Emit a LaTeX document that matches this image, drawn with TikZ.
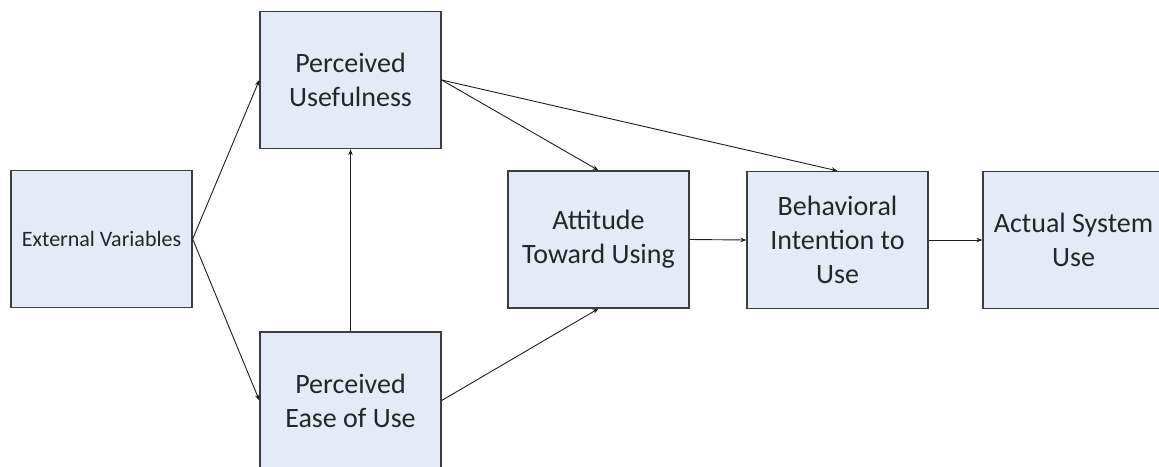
\documentclass[tikz,border=0pt]{standalone}
\usepackage{fontspec}
\setmainfont{Carlito}
\usetikzlibrary{arrows.meta}
\definecolor{boxfill}{RGB}{228,235,246}
\definecolor{boxline}{RGB}{62,62,62}
\definecolor{linkcol}{RGB}{30,30,30}
\begin{document}
\begin{tikzpicture}[x=1pt,y=-1pt,
  tambox/.style={draw=boxline, line width=1.3pt, fill=boxfill, inner sep=0pt,
    minimum width=181pt, minimum height=137pt, align=center,
    font=\fontsize{28}{34}\selectfont, text=black!85},
  link/.style={draw=linkcol, line width=0.9pt, -{Stealth[length=6pt,width=4.5pt]}}]
\useasboundingbox (0,0) rectangle (1159,466);
\clip (0,0) rectangle (1159,466);

% constructs of the acceptance model
\node[tambox, font=\fontsize{22}{27}\selectfont] (ev) at (101.5,239) {External Variables};
\node[tambox] (pu)   at (350.5,80)    {Perceived\\Usefulness};
\node[tambox] (peou) at (350.5,400.5) {Perceived\\Ease of Use};
\node[tambox] (atu)  at (598.5,239.5) {Attitude\\Toward Using};
\node[tambox] (bi)   at (837.5,240)   {Behavioral\\Intention to\\Use};
\node[tambox] (asu)  at (1073.5,240)  {Actual System\\Use};

% causal links
\draw[link] (ev.east) -- (pu.west);
\draw[link] (ev.east) -- (peou.west);
\draw[link] (peou.north) -- (pu.south);
\draw[link] (pu.east) -- (atu.north);
\draw[link] (pu.east) -- (bi.north);
\draw[link] (peou.east) -- (atu.south);
\draw[link] (atu.east) -- (bi.west);
\draw[link] (bi.east) -- (asu.west);
\end{tikzpicture}
\end{document}
